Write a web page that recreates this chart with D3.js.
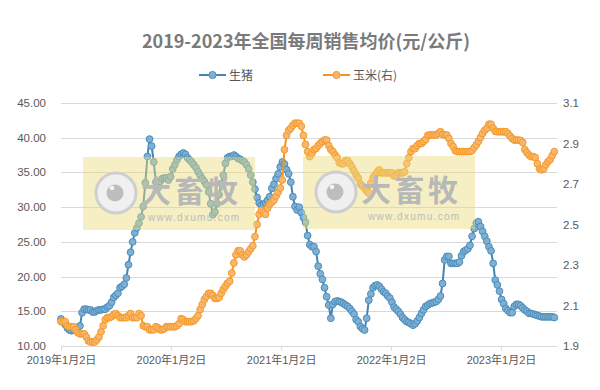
<!DOCTYPE html>
<html>
<head>
<meta charset="utf-8">
<script src="https://cdn.jsdelivr.net/npm/d3@7"></script>
<style>
  body { margin: 0; background: #fff; }
  svg { display: block; font-family: "Liberation Sans", "Noto Sans CJK SC", sans-serif; }
</style>
</head>
<body>
<div class="chart"></div>
<script>
//Data: weekly prices, first week 2019-01-02
const startDate = new Date(2019, 0, 2);
const endDate = new Date(2023, 6, 7);
const seriesNames = ["生猪", "玉米(右)"];
const xTickDates = [new Date(2019, 0, 2), new Date(2020, 0, 2), new Date(2021, 0, 2), new Date(2022, 0, 2), new Date(2023, 0, 2)];
const xTickLabels = ["2019年1月2日", "2020年1月2日", "2021年1月2日", "2022年1月2日", "2023年1月2日"];
const leftTicks = [10, 15, 20, 25, 30, 35, 40, 45];
const rightTicks = [1.9, 2.1, 2.3, 2.5, 2.7, 2.9, 3.1];

const pig = [
  13.9, 13.5, 13.1, 12.6, 12.3, 12.2, 12.3, 12.5, 12.7, 12.9,
  14.8, 15.3, 15.3, 15.2, 15.2, 14.9, 14.9, 15.1, 15.2, 15.2,
  15.3, 15.3, 15.6, 15.8, 16.3, 17.0, 17.3, 17.6, 18.4, 18.6,
  18.9, 19.8, 21.7, 23.5, 25.0, 26.3, 27.0, 27.7, 28.6, 30.1,
  33.5, 37.3, 39.8, 38.8, 36.5, 33.6, 32.8, 33.7, 34.1, 34.2,
  34.2, 33.9, 34.4, 35.5, 36.1, 36.8, 37.3, 37.6, 37.8, 37.6,
  37.1, 36.8, 36.5, 36.1, 35.7, 35.1, 34.6, 34.1, 33.7, 33.2,
  32.2, 30.5, 28.9, 29.3, 30.5, 31.8, 33.4, 34.6, 36.3, 37.1,
  37.3, 37.3, 37.5, 37.3, 37.0, 36.9, 36.7, 36.5, 36.1, 35.5,
  34.6, 33.6, 32.6, 31.4, 30.6, 30.3, 30.3, 30.6, 31.0, 31.5,
  32.7, 33.3, 34.1, 34.8, 35.8, 36.5, 36.2, 35.4, 34.8, 33.6,
  31.5, 30.1, 29.6, 30.0, 29.2, 28.5, 27.8, 25.9, 24.6, 24.3,
  24.3, 23.6, 21.5, 20.4, 19.6, 18.4, 17.1, 15.9, 14.0, 16.0,
  16.4, 16.5, 16.4, 16.3, 16.1, 15.9, 15.7, 15.4, 15.0, 14.6,
  13.8, 13.5, 12.8, 12.5, 12.3, 14.0, 16.6, 17.5, 18.4, 18.7,
  18.8, 18.6, 18.2, 17.8, 17.6, 17.2, 16.9, 16.3, 15.6, 15.3,
  15.0, 14.6, 14.1, 13.8, 13.5, 13.4, 13.2, 13.0, 13.2, 13.6,
  14.1, 14.7, 15.2, 15.7, 15.9, 16.1, 16.2, 16.3, 16.4, 16.7,
  17.2, 19.0, 22.4, 22.9, 22.9, 21.9, 21.9, 21.9, 21.9, 22.1,
  23.0, 23.6, 23.8, 24.0, 24.5, 25.8, 26.9, 27.7, 27.9, 27.2,
  26.5, 25.8, 25.1, 24.3, 23.7, 21.9, 19.5, 18.8, 17.9, 16.7,
  16.1, 15.4, 15.1, 14.8, 14.8, 15.7, 16.0, 16.0, 15.8, 15.5,
  15.2, 15.0, 14.7, 14.7, 14.6, 14.5, 14.4, 14.3, 14.2, 14.2,
  14.2, 14.2, 14.2, 14.2, 14.1
];

const corn = [
  2.02, 2.02, 2.02, 2.00, 1.995, 1.995, 1.995, 1.98, 1.965, 1.96,
  1.96, 1.96, 1.945, 1.925, 1.92, 1.92, 1.92, 1.93, 1.945, 1.97,
  2.00, 2.03, 2.04, 2.04, 2.045, 2.055, 2.06, 2.05, 2.04, 2.04,
  2.04, 2.04, 2.05, 2.06, 2.04, 2.04, 2.04, 2.06, 2.05, 2.00,
  1.995, 1.995, 1.98, 1.98, 1.98, 1.995, 1.99, 1.98, 1.98, 1.985,
  1.995, 1.995, 1.995, 1.995, 1.995, 2.00, 2.01, 2.035, 2.03, 2.02,
  2.02, 2.02, 2.02, 2.025, 2.035, 2.05, 2.08, 2.105, 2.13, 2.145,
  2.16, 2.16, 2.15, 2.135, 2.135, 2.14, 2.16, 2.18, 2.195, 2.21,
  2.22, 2.26, 2.31, 2.35, 2.37, 2.37, 2.35, 2.34, 2.35, 2.365,
  2.38, 2.395, 2.44, 2.50, 2.55, 2.57, 2.56, 2.55, 2.58, 2.60,
  2.61, 2.62, 2.64, 2.66, 2.68, 2.72, 2.87, 2.94, 2.965, 2.975,
  2.99, 3.00, 3.00, 3.00, 2.985, 2.94, 2.895, 2.86, 2.835, 2.85,
  2.87, 2.875, 2.89, 2.90, 2.91, 2.917, 2.917, 2.89, 2.87, 2.86,
  2.843, 2.83, 2.805, 2.80, 2.80, 2.815, 2.815, 2.80, 2.785, 2.765,
  2.745, 2.73, 2.70, 2.69, 2.68, 2.665, 2.655, 2.705, 2.73, 2.745,
  2.76, 2.77, 2.755, 2.755, 2.755, 2.755, 2.755, 2.755, 2.74, 2.74,
  2.755, 2.755, 2.755, 2.76, 2.80, 2.83, 2.86, 2.875, 2.875, 2.89,
  2.90, 2.90, 2.91, 2.92, 2.94, 2.942, 2.942, 2.942, 2.942, 2.95,
  2.958, 2.945, 2.942, 2.942, 2.925, 2.90, 2.885, 2.865, 2.86, 2.86,
  2.86, 2.86, 2.86, 2.86, 2.86, 2.865, 2.88, 2.893, 2.91, 2.93,
  2.95, 2.965, 2.975, 2.995, 2.995, 2.975, 2.96, 2.958, 2.958, 2.958,
  2.958, 2.958, 2.95, 2.937, 2.925, 2.917, 2.917, 2.917, 2.915, 2.905,
  2.87, 2.855, 2.843, 2.835, 2.835, 2.83, 2.80, 2.775, 2.77, 2.775,
  2.795, 2.81, 2.82, 2.84, 2.86
];

const weeks = pig.map((d, i) => d3.timeDay.offset(startDate, 7 * i));

//Layout
const width = 600, height = 390;
const plot = { left: 61, right: 557, top: 103, bottom: 346 };
const pigColor = { line: "#4186b6", fill: "#7fb0d3", stroke: "#4a8dbb" };
const cornColor = { line: "#f7941d", fill: "#f9b66e", stroke: "#f59a25" };

const x = d3.scaleTime().domain([startDate, endDate]).range([plot.left, plot.right]);
const yLeft = d3.scaleLinear().domain([10, 45]).range([plot.bottom, plot.top]);
const yRight = d3.scaleLinear().domain([1.9, 3.1]).range([plot.bottom, plot.top]);

const svg = d3.select(".chart")
  .append("svg")
  .attr("width", width)
  .attr("height", height);

//Title
svg.append("text")
  .attr("x", 306)
  .attr("y", 48)
  .attr("text-anchor", "middle")
  .style("font-family", "'Noto Sans CJK SC', sans-serif")
  .style("font-size", "18px")
  .style("font-weight", "bold")
  .style("fill", "#7a7a7a")
  .text("2019-2023年全国每周销售均价(元/公斤)");

//Gridlines
svg.append("g")
  .selectAll("line")
  .data(leftTicks)
  .join("line")
  .attr("x1", plot.left)
  .attr("x2", plot.right)
  .attr("y1", d => Math.round(yLeft(d)) + 0.5)
  .attr("y2", d => Math.round(yLeft(d)) + 0.5)
  .style("stroke", "#d9d9d9")
  .style("stroke-width", 1);

//Left axis labels
svg.append("g")
  .selectAll("text")
  .data(leftTicks)
  .join("text")
  .attr("x", 46)
  .attr("y", d => yLeft(d) + 4)
  .attr("text-anchor", "end")
  .style("font-size", "11.5px")
  .style("fill", "#595959")
  .text(d => d3.format(".2f")(d));

//Right axis labels
svg.append("g")
  .selectAll("text")
  .data(rightTicks)
  .join("text")
  .attr("x", 563)
  .attr("y", d => yRight(d) + 4)
  .attr("text-anchor", "start")
  .style("font-size", "11.5px")
  .style("fill", "#595959")
  .text(d => d3.format(".1f")(d));

//Bottom axis
const xAxis = svg.append("g")
  .attr("transform", `translate(0,${plot.bottom + 0.5})`)
  .call(d3.axisBottom(x)
    .tickValues(xTickDates)
    .tickSize(4)
    .tickPadding(6)
    .tickFormat((d, i) => xTickLabels[i]));
xAxis.select(".domain").attr("d", `M${plot.left},0H${plot.right}`).style("stroke", "#d9d9d9");
xAxis.selectAll(".tick line").style("stroke", "#d9d9d9");
xAxis.selectAll(".tick text")
  .style("font-family", "'Liberation Sans', 'Noto Sans CJK SC', sans-serif")
  .style("font-size", "11px")
  .style("fill", "#595959");

//Series
function drawSeries(values, yScale, color) {
  const g = svg.append("g");
  const line = d3.line()
    .x((d, i) => x(weeks[i]))
    .y(d => yScale(d));
  g.append("path")
    .datum(values)
    .attr("d", line)
    .style("fill", "none")
    .style("stroke", color.line)
    .style("stroke-width", 2)
    .style("stroke-linejoin", "round");
  g.selectAll("circle")
    .data(values)
    .join("circle")
    .attr("cx", (d, i) => x(weeks[i]))
    .attr("cy", d => yScale(d))
    .attr("r", 3.4)
    .style("fill", color.fill)
    .style("stroke", color.stroke)
    .style("stroke-width", 1);
}
drawSeries(pig, yLeft, pigColor);
drawSeries(corn, yRight, cornColor);

//Watermarks on top of the plot
function drawWatermark(x0, y0) {
  const g = svg.append("g").attr("transform", `translate(${x0},${y0})`);
  g.append("rect")
    .attr("width", 172)
    .attr("height", 73)
    .style("fill", "#e8dc7a")
    .style("opacity", 0.45);
  g.append("circle").attr("cx", 33).attr("cy", 36).attr("r", 20)
    .style("fill", "#f0f0f0").style("stroke", "#cfcfcf").style("stroke-width", 3);
  g.append("circle").attr("cx", 32).attr("cy", 36).attr("r", 8.5).style("fill", "#bdbdbd");
  g.append("circle").attr("cx", 29).attr("cy", 31).attr("r", 2.3).style("fill", "#f4f4f4");
  g.append("text")
    .attr("x", 58)
    .attr("y", 45)
    .style("font-family", "'Noto Sans CJK SC', sans-serif")
    .style("font-size", "30px")
    .style("font-weight", "bold")
    .style("letter-spacing", "3.5px")
    .style("fill", "#b8b8b8")
    .text("大畜牧");
  g.append("text")
    .attr("x", 65)
    .attr("y", 64)
    .style("font-size", "10px")
    .style("letter-spacing", "1.3px")
    .style("fill", "#bcbcbc")
    .text("www.dxumu.com");
}
drawWatermark(83, 157);
drawWatermark(303, 156);

//Legend
const legendItems = [
  { name: seriesNames[0], color: pigColor, x: 199 },
  { name: seriesNames[1], color: cornColor, x: 323 }
];
const legend = svg.append("g")
  .selectAll("g")
  .data(legendItems)
  .join("g")
  .attr("transform", d => `translate(${d.x},75)`);
legend.append("line")
  .attr("x1", 0).attr("x2", 27)
  .style("stroke", d => d.color.line)
  .style("stroke-width", 2);
legend.append("circle")
  .attr("cx", 13.5).attr("r", 3.6)
  .style("fill", d => d.color.fill)
  .style("stroke", d => d.color.stroke);
legend.append("text")
  .attr("x", 30)
  .attr("y", 4.5)
  .style("font-family", "'Noto Sans CJK SC', sans-serif")
  .style("font-size", "12px")
  .style("fill", "#595959")
  .text(d => d.name);
</script>
</body>
</html>
